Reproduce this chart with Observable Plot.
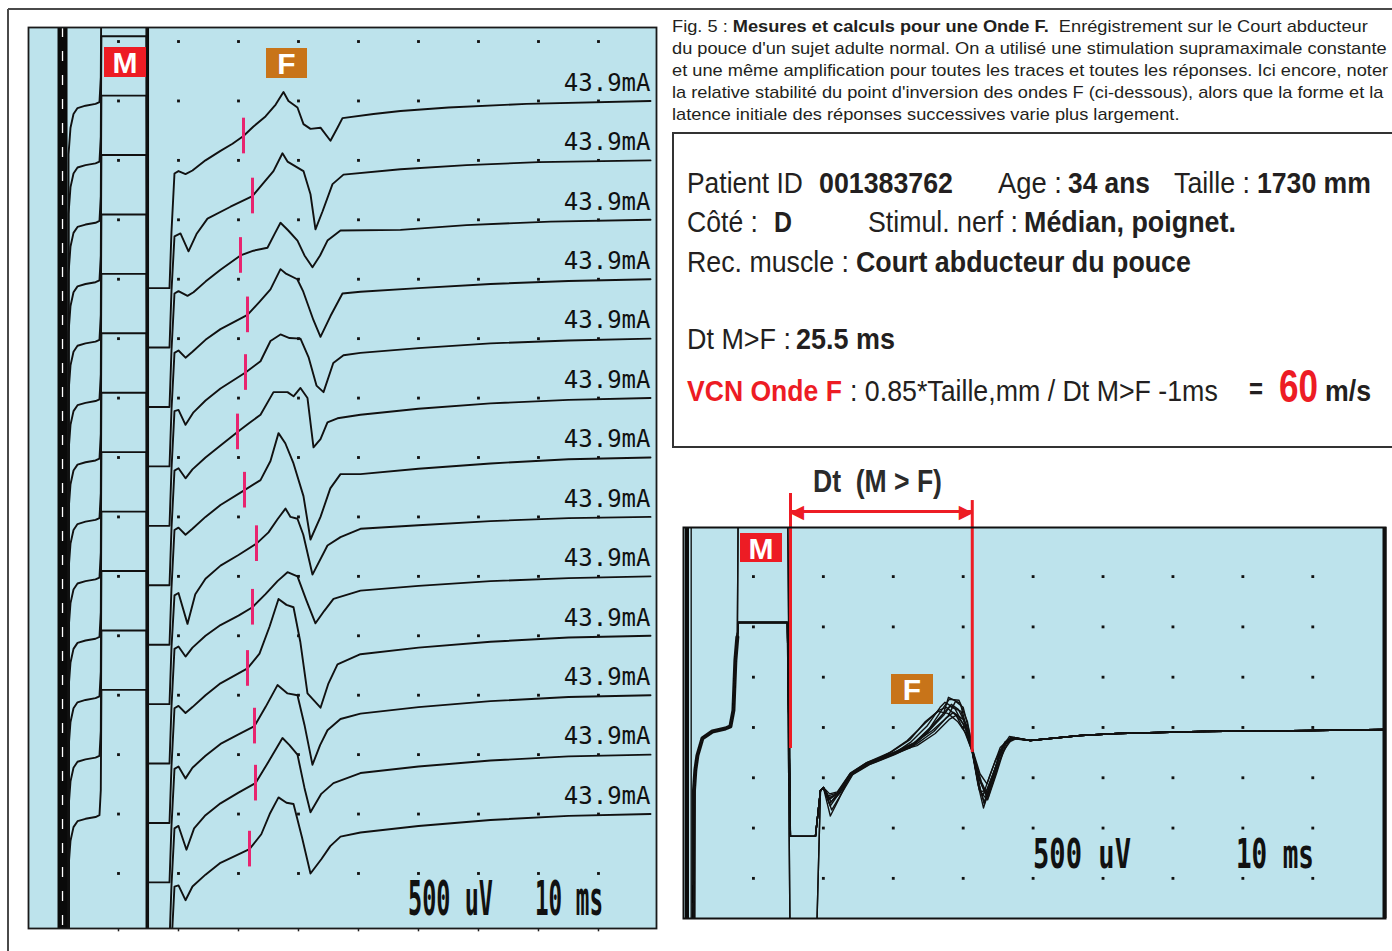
<!DOCTYPE html>
<html><head><meta charset="utf-8">
<script src="https://cdn.jsdelivr.net/npm/d3@7"></script>
<script src="https://cdn.jsdelivr.net/npm/@observablehq/plot@0.6"></script>
<style>
html,body{margin:0;padding:0;background:#fff;}
#root{position:relative;width:1392px;height:951px;overflow:hidden;background:#fff;}
#root > svg{position:absolute;}
</style></head>
<body><div id="root"></div>
<script>
// ---------------- DATA ----------------
// Left panel: 13 successive F-wave recordings (time in ms, amplitude in µV relative to each trace baseline)
const stimIntensityMA = [43.9, 43.9, 43.9, 43.9, 43.9, 43.9, 43.9, 43.9, 43.9, 43.9, 43.9, 43.9, 43.9];
const stimArtifactMs = [-9.33];
const mFallMs = [4.8];
const dotColsMs = [0, 10, 20, 30, 40, 50, 60, 70, 80];
const dotRowsUv = [0, -500, -1000, -1500, -2000, -2500, -3000, -3500, -4000, -4500, -5000, -5500, -6000, -6500, -7000];
// saturated M response (same for every sweep)
const mTemplateMs = [-8.33, -8.33, -8.0, -7.5, -6.83, -5.5, -3.83, -3.17, -2.95, -2.85, 4.67, 4.9, 8.5];
const mTemplateUv = [-9000, -450, -225, -110, -60, -40, -25, -10, 200, 1045, 1045, -1575, -1575];
// F responses, [ms, µV]
const fWaves = [
  [[8.83,-1100],[9.33,-610],[10,-590],[11.17,-615],[12.33,-585],[14.5,-500],[17,-420],[19,-360],[20.83,-295],[22.5,-215],[24.5,-130],[26.2,-30],[27.5,75],[28.33,0],[29.83,-55],[30.83,-195],[32,-235],[33.67,-225],[35.33,-335],[36.5,-225],[37.33,-145],[42.5,-110],[47,-85],[55,-55],[68,-25],[88.67,0]],
  [[8.83,-1100],[9.33,-640],[10.33,-615],[11.67,-765],[13,-620],[14.83,-490],[18.67,-390],[22.33,-300],[24,-200],[25.83,-90],[27.33,60],[28.17,-10],[30.83,-90],[32,-285],[32.83,-580],[34,-430],[35.67,-200],[37.5,-120],[47,-75],[58,-40],[70,-15],[88.67,0]],
  [[8.83,-1100],[9.33,-620],[10,-600],[11.5,-640],[12.5,-610],[14.5,-520],[17,-420],[20.33,-300],[22.5,-260],[24.83,-235],[26,-120],[27,-25],[28.3,-90],[29.83,-175],[31,-300],[32.33,-400],[33.6,-300],[34.83,-175],[37,-90],[47,-85],[58,-45],[72,-15],[88.67,0]],
  [[8.83,-1100],[9.33,-620],[10,-600],[11.17,-660],[12.33,-610],[14.5,-510],[17,-420],[21.5,-300],[23.5,-190],[25.33,-85],[27,85],[27.83,50],[29.8,0],[30.8,-105],[32.5,-345],[33.67,-485],[35.33,-310],[37.33,-120],[40.33,-105],[50,-75],[62,-40],[75,-15],[88.67,0]],
  [[8.83,-1100],[9.33,-610],[10,-600],[11.17,-725],[12.5,-620],[14.5,-520],[17,-420],[21.17,-285],[23.67,-190],[25.33,-20],[27,35],[28.5,5],[30.33,0],[31.67,-155],[33,-395],[34.17,-450],[35.8,-205],[37.5,-140],[40.33,-120],[50,-80],[62,-40],[75,-15],[88.67,0]],
  [[8.83,-1100],[9.33,-610],[10,-590],[11.17,-675],[12.33,-600],[14.5,-500],[17,-400],[19.83,-285],[21.8,-210],[23.67,-140],[25.83,50],[28.17,50],[29.17,15],[30.33,85],[31.5,0],[32.5,-415],[33.67,-345],[34.83,-205],[36.5,-170],[40.33,-140],[50,-90],[62,-45],[75,-15],[88.67,0]],
  [[8.83,-1100],[9.33,-610],[10,-590],[11.17,-650],[12.33,-600],[14.5,-500],[17,-400],[21,-275],[23.67,-190],[25.33,-30],[26.67,205],[27.8,120],[29.17,-50],[30.83,-325],[32,-690],[33.67,-500],[35.3,-260],[37,-140],[40.33,-140],[50,-95],[62,-50],[75,-15],[88.67,0]],
  [[8.83,-1100],[9.33,-660],[10,-640],[11.5,-900],[12.8,-650],[14.5,-520],[17,-410],[20,-320],[23,-225],[25,-130],[26.5,-20],[27.83,70],[28.67,0],[29.83,-15],[30.8,-150],[32.33,-485],[34.83,-240],[37,-170],[40.33,-100],[50,-70],[62,-35],[75,-10],[88.67,0]],
  [[8.83,-1100],[9.33,-610],[10,-590],[11.17,-675],[12.33,-600],[14.5,-500],[17,-410],[20,-330],[22.33,-260],[24.5,-150],[26.5,-40],[28.17,35],[29.83,0],[31.3,-200],[32.83,-395],[34.3,-290],[35.83,-190],[40.33,-120],[50,-80],[62,-40],[75,-15],[88.67,0]],
  [[8.83,-1100],[9.33,-610],[10,-590],[11.17,-650],[12.33,-600],[14.5,-500],[17,-400],[21.5,-275],[23.5,-150],[25.2,80],[26.67,310],[28,260],[29.17,240],[30.3,-50],[31.5,-485],[33.67,-605],[35,-400],[36.5,-240],[40.33,-155],[50,-100],[62,-50],[75,-15],[88.67,0]],
  [[8.83,-1100],[9.33,-620],[10,-600],[11.17,-700],[12.33,-610],[14.5,-510],[17,-410],[20,-330],[22.67,-260],[24.5,-100],[26.5,85],[28.17,15],[29.83,0],[31,-250],[32.33,-585],[33.6,-420],[34.83,-295],[37,-200],[40.33,-155],[50,-100],[62,-50],[75,-15],[88.67,0]],
  [[8.83,-1100],[9.33,-620],[10,-600],[11.33,-800],[12.6,-620],[14.5,-510],[17,-410],[20,-320],[22.83,-240],[25,-60],[27.33,140],[28.5,80],[29.83,0],[31,-280],[32,-485],[33.8,-330],[35.83,-240],[40.33,-155],[50,-100],[62,-50],[75,-15],[88.67,0]],
  [[8.83,-1100],[9.33,-610],[10,-600],[11.17,-725],[12.33,-610],[14.5,-510],[17,-410],[21.83,-295],[23.8,-170],[25.2,0],[26.67,140],[28,95],[29.17,85],[30.6,-200],[32,-500],[33.8,-380],[35.3,-270],[37,-190],[40.33,-155],[50,-100],[62,-50],[75,-15],[88.67,0]]
];
// F-wave inversion points (pink marks)
const inversionMs = [20.83, 22.33, 20.33, 21.5, 21.17, 19.83, 21.0, 23.0, 22.33, 21.5, 22.67, 22.83, 21.83];
const inversionUv = [-295, -300, -300, -300, -285, -285, -275, -225, -260, -275, -260, -240, -295];

// Right panel: superimposed sweeps
const rightArtifactMs = [-9.5, -8.9];
const rightDotColsMs = [0, 10, 20, 30, 40, 50, 60, 70, 80];
const rightDotRowsUv = [1500, 1000, 500, 0, -500, -1000, -1500];
const rightPreMs = [-8.58, -8.5, -8.3, -8.01, -7.3, -5.87, -4.0, -3.29, -2.86, -2.58, -2.3];
const rightPreUv = [-2500, -626, -420, -278, -109, -40, -10, 10, 169, 666, 900];
const rightMEdgeMs = [-2.15, 4.86, 5.29, 8.87];
const rightMTopUv = [1044, 1044, 2500, 1044, 1044, 1044, 2500, 1044, 1044, 1044];
const rightMBottomUv = [-1083, -1083, -1083, -2500, -1083, -1083, -1083, -2500, -1083, -1083];
const rightRecoveryMs = [9.59, 10.0];
const rightRecoveryUv = [-626, -596];
const rightFWaves = [
  [[10.7,-680],[12,-650],[13.9,-460],[16.3,-360],[20,-260],[22.9,-160],[25.3,0],[27.2,140],[27.9,300],[29.6,240],[30.8,-100],[31.3,-230],[32.2,-580],[32.8,-680],[33.9,-460],[35.3,-200],[36.8,-100]],
  [[10.9,-760],[12.2,-640],[14,-470],[16.5,-370],[20,-270],[22.5,-200],[24.8,-60],[26.8,110],[28.3,230],[29.3,180],[30.5,20],[31.3,-220],[32,-500],[33,-760],[34.2,-560],[35.6,-250],[37,-110]],
  [[11,-880],[12.3,-700],[13.8,-480],[16,-380],[19.5,-250],[22,-130],[24.5,40],[26.5,170],[27.6,200],[29,120],[30.2,-40],[31.3,-240],[32.3,-620],[33.2,-700],[34.5,-420],[35.8,-170],[37.2,-100]],
  [[10.8,-700],[12.1,-660],[14,-460],[16.4,-350],[20,-250],[23,-150],[25.6,-30],[27.5,90],[28.6,150],[30,80],[31,-120],[31.3,-210],[32.4,-460],[33.4,-560],[34.6,-330],[36,-140],[37.4,-110]],
  [[11.2,-820],[12.4,-680],[14.2,-470],[16.6,-370],[20.2,-270],[23.2,-170],[25.8,-40],[27.9,120],[28.9,260],[30,200],[30.9,-50],[31.3,-250],[32.1,-560],[32.9,-800],[34,-560],[35.2,-240],[36.6,-90]],
  [[10.9,-660],[12,-640],[13.9,-450],[16.2,-350],[19.8,-240],[22.4,-120],[24.6,60],[26.4,160],[27.8,140],[29.2,60],[30.4,-60],[31.3,-240],[32.5,-640],[33.4,-620],[34.8,-360],[36.2,-130],[37.5,-110]],
  [[11.1,-740],[12.3,-660],[14.1,-470],[16.4,-360],[20.1,-260],[22.8,-170],[25.1,-20],[26.9,170],[28,280],[29.4,270],[30.6,60],[31.3,-200],[32.3,-520],[33.2,-660],[34.4,-440],[35.7,-190],[37,-100]],
  [[10.8,-720],[12.1,-650],[13.8,-460],[16.2,-350],[20,-250],[23.4,-180],[26,-60],[28,80],[29,120],[30,40],[30.9,-90],[31.3,-220],[32.2,-480],[33.5,-720],[34.8,-450],[36.1,-160],[37.3,-100]],
  [[11,-780],[12.2,-660],[14,-460],[16.3,-360],[20.1,-260],[22.6,-140],[24.9,20],[26.7,200],[27.4,250],[28.8,190],[30.3,-10],[31.3,-240],[32.4,-600],[33,-740],[34.3,-500],[35.5,-210],[36.9,-100]],
  [[10.9,-700],[12.1,-650],[14,-465],[16.4,-365],[20,-265],[23,-165],[25.4,-10],[27.3,130],[28.1,210],[29.7,160],[30.8,-70],[31.3,-230],[32.6,-540],[33.6,-690],[34.9,-380],[36.4,-150],[37.6,-110]]
];
const rightTailMs = [39.6, 46.8, 52.1, 64, 80, 90.4];
const rightTailUv = [-130, -80, -60, -40, -30, -20];
// Dt (M > F) measurement
const dtMarkersMs = [5.3, 31.3];
const dtLineTopUv = [2326, 2256];
const dtLineBottomUv = [-209, -249];
const dtArrowUv = 2147;

// ---------------- STYLE ----------------
const BLUE = "#bde3ec", INK = "#111", PINK = "#e8246f", RED = "#ed1c24", ORANGE = "#c87419", TEXT = "#231f20";
const SANS = "'Liberation Sans', Arial, sans-serif", MONO = "'DejaVu Sans Mono', monospace";
const root = d3.select("#root");

// ---------------- LEFT PANEL ----------------
const leftRows = [];
fWaves.forEach((w, k) => {
  const base = -500 * (k + 1);
  mTemplateMs.forEach((t, i) => leftRows.push({trace: k, t, v: base + mTemplateUv[i]}));
  w.forEach(([t, v]) => leftRows.push({trace: k, t, v: base + v}));
});
const markers = inversionMs.map((t, k) => ({t, v: -500 * (k + 1) + inversionUv[k]}));
const stimLabels = stimIntensityMA.map((ma, k) => ({label: ma.toFixed(1) + "mA", y: -500 * (k + 1) + 151}));
const leftGrid = dotRowsUv.flatMap(v => dotColsMs.map(t => ({t, v})));
const LX = [-15, 89.67], LY = [-7463, 118];

const left = Plot.plot({
  width: 632, height: 905,
  marginTop: 2, marginRight: 2, marginBottom: 2, marginLeft: 2,
  x: {domain: LX, axis: null},
  y: {domain: LY, axis: null},
  style: {background: "transparent", overflow: "visible"},
  marks: [
    Plot.frame({fill: BLUE}),
    Plot.dot(leftGrid, {x: "t", y: "v", r: 1.6, symbol: "square", fill: INK}),
    Plot.ruleX(stimArtifactMs, {stroke: "#0a0a0a", strokeWidth: 10}),
    Plot.ruleX(stimArtifactMs, {stroke: "#fff", strokeWidth: 1.3, strokeDasharray: "10,14"}),
    Plot.ruleX(mFallMs, {stroke: "#0a0a0a", strokeWidth: 3.5}),
    Plot.line(leftRows, {x: "t", y: "v", z: "trace", stroke: INK, strokeWidth: 1.9, clip: true}),
    Plot.ruleX(markers, {x: "t", y1: d => d.v - 150, y2: d => d.v + 150, stroke: PINK, strokeWidth: 3}),
    Plot.text(stimLabels, {x: () => LX[1], y: "y", text: "label", textAnchor: "end", lineAnchor: "middle", dx: -6,
      fontFamily: "DejaVu Sans Mono", fontSize: 24, fill: INK, ariaLabel: "stim-labels"}),
    Plot.ruleX(dotColsMs, {y1: LY[0], y2: LY[0] - 28, stroke: "#222", strokeWidth: 1.5}),
    Plot.frame({stroke: "#1a1a1a", strokeWidth: 1.8})
  ]
});
left.style.left = "26px"; left.style.top = "25px";
root.node().appendChild(left);
left.querySelectorAll('g[aria-label="stim-labels"] text').forEach(t => {
  const w = t.getComputedTextLength();
  t.setAttribute("textLength", Math.min(85, w)); t.setAttribute("lengthAdjust", "spacingAndGlyphs");
});

// ---------------- RIGHT PANEL ----------------
const rightRows = [];
const rightPreRows = rightPreMs.map((t, i) => ({t, v: rightPreUv[i]}));
rightFWaves.forEach((w, k) => {
  const pts = rightPreMs.map((t, i) => [t, rightPreUv[i]]);
  pts.push([rightMEdgeMs[0], rightMTopUv[k]], [rightMEdgeMs[1], rightMTopUv[k]],
           [rightMEdgeMs[2], rightMBottomUv[k]], [rightMEdgeMs[3], rightMBottomUv[k]]);
  rightRecoveryMs.forEach((t, i) => pts.push([t, rightRecoveryUv[i]]));
  w.forEach(p => pts.push(p));
  rightTailMs.forEach((t, i) => pts.push([t, rightTailUv[i]]));
  pts.forEach(([t, v]) => rightRows.push({trace: k, t, v}));
});
const rightGrid = rightDotRowsUv.flatMap(v => rightDotColsMs.map(t => ({t, v})));
const dtLines = dtMarkersMs.map((t, i) => ({t, top: dtLineTopUv[i], bottom: dtLineBottomUv[i]}));
const RX = [-10.0, 90.4], RY = [-1899, 1988];

const right = Plot.plot({
  width: 706, height: 462,
  marginTop: 67, marginRight: 2, marginBottom: 4, marginLeft: 2,
  x: {domain: RX, axis: null},
  y: {domain: RY, axis: null},
  style: {background: "transparent", overflow: "visible"},
  marks: [
    Plot.frame({fill: BLUE}),
    Plot.dot(rightGrid, {x: "t", y: "v", r: 1.6, symbol: "square", fill: INK}),
    Plot.ruleX(rightArtifactMs, {stroke: "#0a0a0a", strokeWidth: (d, i) => i === 0 ? 4 : 1.3}),
    Plot.line(rightPreRows, {x: "t", y: "v", stroke: INK, strokeWidth: 4, clip: true}),
    Plot.line(rightRows, {x: "t", y: "v", z: "trace", stroke: INK, strokeWidth: 1.4, clip: true}),
    Plot.ruleX(dtLines, {x: "t", y1: "bottom", y2: "top", stroke: RED, strokeWidth: 3}),
    Plot.ruleY([dtArrowUv], {x1: dtMarkersMs[0], x2: dtMarkersMs[1], stroke: RED, strokeWidth: 3}),
    Plot.text([dtArrowUv], {x: dtMarkersMs[0], y: d => d, text: () => "◀", textAnchor: "start", lineAnchor: "middle",
      dx: -1, fontSize: 19, fill: RED, fontFamily: "DejaVu Sans"}),
    Plot.text([dtArrowUv], {x: dtMarkersMs[1], y: d => d, text: () => "▶", textAnchor: "end", lineAnchor: "middle",
      dx: 1, fontSize: 19, fill: RED, fontFamily: "DejaVu Sans"}),
    Plot.frame({stroke: "#111", strokeWidth: 2})
  ]
});
right.style.left = "681px"; right.style.top = "460px";
root.node().appendChild(right);

// ---------------- TEXT, FRAMES & LABELS ----------------
const ov = root.append("svg").attr("width", 1392).attr("height", 951).style("left", "0px").style("top", "0px");
ov.append("line").attr("x1", 8).attr("y1", 9).attr("x2", 1392).attr("y2", 9).attr("stroke", "#4a4a4a").attr("stroke-width", 2);
ov.append("line").attr("x1", 8).attr("y1", 9).attr("x2", 8).attr("y2", 951).attr("stroke", "#4a4a4a").attr("stroke-width", 2);
ov.append("line").attr("x1", 1384.5).attr("y1", 527).attr("x2", 1384.5).attr("y2", 918).attr("stroke", "#111").attr("stroke-width", 4);

function fitted(txt, x, y, len, attrs) {
  const t = ov.append("text").attr("x", 0).attr("y", 0).style("white-space", "pre");
  Object.entries(attrs).forEach(([k, v]) => t.attr(k, v));
  t.text(txt);
  const w = t.node().getComputedTextLength() || len;
  t.attr("transform", `translate(${x},${y}) scale(${len / w},1)`);
  return t;
}

const captionLines = [
  [["Fig. 5 : ", false], ["Mesures et calculs pour une Onde F.", true], ["  Enrégistrement sur le Court abducteur", false]],
  [["du pouce d'un sujet adulte normal. On a utilisé une stimulation supramaximale constante", false]],
  [["et une même amplification pour toutes les traces et toutes les réponses. Ici encore, noter", false]],
  [["la relative stabilité du point d'inversion des ondes F (ci-dessous), alors que la forme et la", false]],
  [["latence initiale des réponses successives varie plus largement.", false]]
];
const captionBaselines = [32, 54, 76, 98, 120];
const cap = ov.append("g").attr("transform", "translate(672,0) scale(1.14,1)")
  .attr("font-family", SANS).attr("font-size", 16).attr("fill", TEXT);
captionLines.forEach((segs, i) => {
  const t = cap.append("text").attr("x", 0).attr("y", captionBaselines[i]).style("white-space", "pre");
  segs.forEach(([s, b]) => t.append("tspan").attr("font-weight", b ? "bold" : "normal").text(s));
});

ov.append("rect").attr("x", 673).attr("y", 133).attr("width", 760).attr("height", 314)
  .attr("fill", "none").attr("stroke", "#333").attr("stroke-width", 2);

const boxSegments = [
  {text: "Patient ID", x: 687, y: 193, len: 116},
  {text: "001383762", x: 819, y: 193, len: 134, bold: true},
  {text: "Age :", x: 998, y: 193, len: 64},
  {text: "34 ans", x: 1068, y: 193, len: 82, bold: true},
  {text: "Taille :", x: 1174, y: 193, len: 76},
  {text: "1730 mm", x: 1257, y: 193, len: 114, bold: true},
  {text: "Côté :", x: 687, y: 232, len: 71},
  {text: "D", x: 774, y: 232, len: 18, bold: true},
  {text: "Stimul. nerf :", x: 868, y: 232, len: 150},
  {text: "Médian, poignet.", x: 1024, y: 232, len: 212, bold: true},
  {text: "Rec. muscle :", x: 687, y: 272, len: 162},
  {text: "Court abducteur du pouce", x: 856, y: 272, len: 335, bold: true},
  {text: "Dt M>F :", x: 687, y: 349, len: 104},
  {text: "25.5 ms", x: 796, y: 349, len: 99, bold: true},
  {text: "VCN Onde F", x: 687, y: 401, len: 155, bold: true, color: RED},
  {text: ": 0.85*Taille,mm / Dt M>F -1ms", x: 850, y: 401, len: 368},
  {text: "=", x: 1249, y: 399, len: 14, bold: true},
  {text: "60", x: 1279, y: 402, len: 39, bold: true, color: RED, size: 46},
  {text: "m/s", x: 1325, y: 401, len: 46, bold: true}
];
boxSegments.forEach(s => fitted(s.text, s.x, s.y, s.len, {
  "font-family": SANS, "font-size": s.size || 30, "font-weight": s.bold ? "bold" : "normal", fill: s.color || TEXT
}));

fitted("Dt  (M > F)", 813, 492, 129, {"font-family": SANS, "font-size": 31, "font-weight": "bold", fill: "#2b2b2b"});

function labelBox(x, y, w, h, fill, txt) {
  ov.append("rect").attr("x", x).attr("y", y).attr("width", w).attr("height", h).attr("fill", fill);
  ov.append("text").attr("x", x + w / 2).attr("y", y + h / 2 + 11).attr("text-anchor", "middle")
    .attr("font-family", SANS).attr("font-size", 30).attr("font-weight", "bold")
    .attr("fill", "#fff").text(txt);
}
labelBox(104, 47, 42, 30, RED, "M");
labelBox(266, 48, 41, 30, ORANGE, "F");
labelBox(740, 533, 42, 29, RED, "M");
labelBox(891, 674, 42, 30, ORANGE, "F");

const lcdAttrs = size => ({"font-family": MONO, "font-size": size, "font-weight": "bold", fill: INK});
fitted("500 uV", 408, 915, 85, lcdAttrs(48));
fitted("10 ms", 535, 915, 68, lcdAttrs(48));
fitted("500 uV", 1033, 868, 98, lcdAttrs(41));
fitted("10 ms", 1236, 868, 78, lcdAttrs(41));
</script>
</body></html>
